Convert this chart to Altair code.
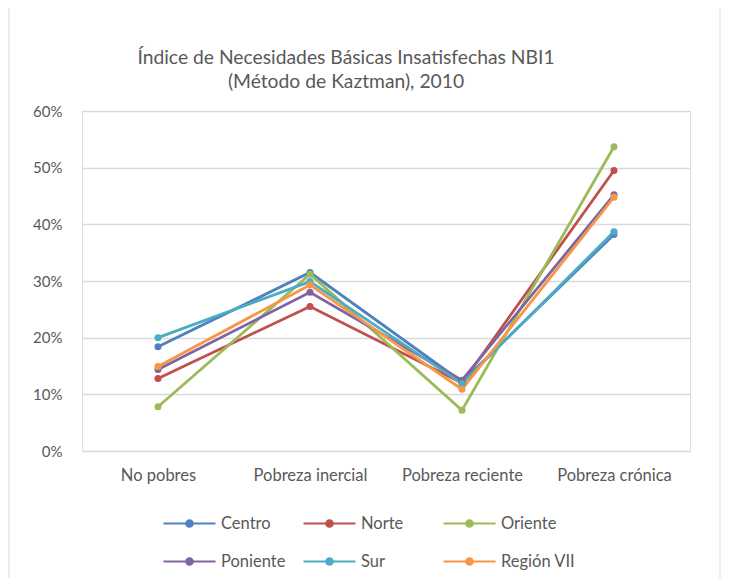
import altair as alt
import pandas as pd

categories = ["No pobres", "Pobreza inercial", "Pobreza reciente", "Pobreza crónica"]
series = ["Centro", "Norte", "Oriente", "Poniente", "Sur", "Región VII"]
colors = ["#4F81BD", "#C0504D", "#9BBB59", "#8064A2", "#4BACC6", "#F79646"]

centro = [0.184, 0.315, 0.122, 0.382]
norte = [0.128, 0.255, 0.120, 0.495]
oriente = [0.078, 0.312, 0.072, 0.537]
poniente = [0.144, 0.280, 0.125, 0.452]
sur = [0.200, 0.299, 0.119, 0.387]
region7 = [0.149, 0.293, 0.109, 0.448]

values = [centro, norte, oriente, poniente, sur, region7]
rows = []
for s, vals in zip(series, values):
    for c, v in zip(categories, vals):
        rows.append({"Zona": s, "Categoria": c, "Valor": v})
df = pd.DataFrame(rows)

FONT = "Lato"
GREY = "#595959"

legend_path = ("M-2,0L2,0M-0.25,0A0.25,0.25,0,1,1,0.25,0"
               "A0.25,0.25,0,1,1,-0.25,0Z")

border = alt.Chart(alt.Data(values=[{"k": 1}])).mark_rect(
    fillOpacity=0, stroke="#D9D9D9", strokeWidth=1
).encode(
    x=alt.value(-73), x2=alt.value(638), y=alt.value(-104), y2=alt.value(492)
)

lines = alt.Chart(df).mark_line(
    strokeWidth=2.8,
    point=alt.OverlayMarkDef(filled=True, size=50, opacity=1),
).encode(
    x=alt.X("Categoria:N", sort=categories,
            scale=alt.Scale(type="point", padding=0.5),
            axis=alt.Axis(title=None, labelAngle=0, domain=False, ticks=False,
                          labelPadding=16, labelFontSize=16.5, labelColor=GREY,
                          labelFont=FONT, grid=False)),
    y=alt.Y("Valor:Q",
            scale=alt.Scale(domain=[0, 0.6], nice=False),
            axis=alt.Axis(title=None, format=".0%", values=[0, 0.1, 0.2, 0.3, 0.4, 0.5, 0.6],
                          domain=False, ticks=False, labelPadding=20,
                          labelFontSize=15, labelColor=GREY, labelFont=FONT,
                          gridColor="#D9D9D9", gridWidth=1.3)),
    color=alt.Color("Zona:N", sort=series,
                    scale=alt.Scale(domain=series, range=colors),
                    legend=alt.Legend(
                        title=None, orient="none", legendX=93, legendY=398,
                        direction="horizontal", columns=3, gridAlign="all",
                        symbolType=legend_path, symbolSize=676,
                        symbolStrokeWidth=2.2, labelOffset=17,
                        columnPadding=3, rowPadding=15, padding=0,
                        labelFontSize=16.5, labelColor=GREY, labelFont=FONT,
                        labelBaseline="middle", symbolOpacity=1,
                    )),
)

chart = alt.layer(border, lines).properties(
    width=608,
    height=340,
    title=alt.TitleParams(
        text=["Índice de Necesidades Básicas Insatisfechas NBI1",
              "(Método de Kaztman), 2010"],
        font=FONT, fontSize=19.3, fontWeight="normal", color=GREY,
        anchor="middle", dx=-40, offset=-86, lineHeight=24,
    ),
    autosize=alt.AutoSizeParams(type="none"),
    padding={"left": 74, "top": 103, "right": 33, "bottom": 127},
).configure_view(stroke=None).configure(background="white")

chart.save("out.html", embed_options={"renderer": "svg", "actions": False})
